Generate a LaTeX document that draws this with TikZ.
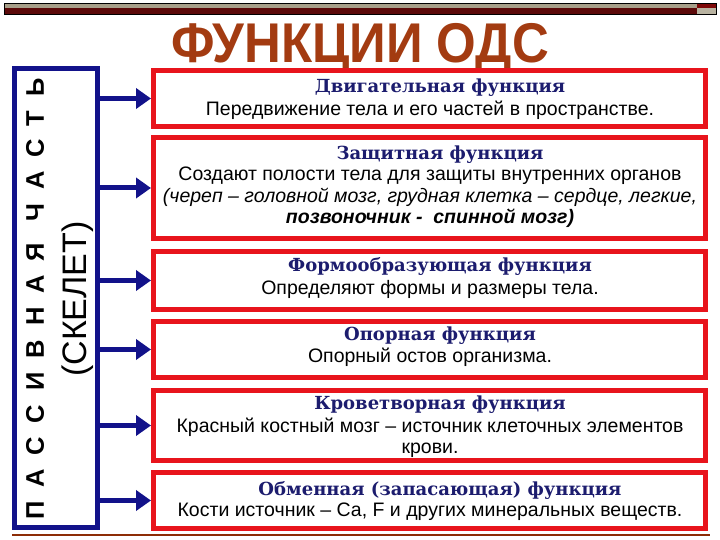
\documentclass[tikz,border=0pt]{standalone}
\usepackage{fontspec}
\setmainfont{Liberation Sans}
\newfontfamily\ttlfont{DejaVu Serif}
\newfontfamily\spacedfont[LetterSpace=55]{Liberation Sans}
\usetikzlibrary{arrows.meta,calc}
\definecolor{navy}{HTML}{12128A}
\definecolor{boxred}{HTML}{E8141C}
\definecolor{ttlbrown}{HTML}{A33B11}
\definecolor{ttlnavy}{HTML}{1C1C6E}
\definecolor{bartan}{HTML}{A8A08A}
\definecolor{barmaroon}{HTML}{5C0A0A}
\tikzset{
  redbox/.style={draw=boxred, line width=4pt, fill=white, minimum width=553pt, inner sep=0pt},
  bluebox/.style={draw=navy, line width=5pt, fill=white, minimum width=83pt, minimum height=459pt, inner sep=0pt},
  fntitle/.style={font=\ttlfont\bfseries\fontsize{18}{20}\selectfont, text=ttlnavy, inner sep=0pt},
  fnbody/.style={font=\fontsize{19.5}{21.5}\selectfont, text=black, align=center, inner sep=0pt},
  link/.style={draw=navy, line width=5pt, -{Triangle[length=15pt,width=20pt]}}
}
\begin{document}
\begin{tikzpicture}[x=1pt,y=-1pt]
\useasboundingbox (0,0) rectangle (720,540);
% top bar
\fill[bartan] (4,3) rectangle (716,8.5);
\fill[barmaroon] (4,8.5) rectangle (716,14);
\fill[barmaroon!80!red] (697,3) rectangle (716,8.5);
\fill[bartan!80!white] (697,8.5) rectangle (716,14);
\draw[black, line width=0.6pt] (4,3) rectangle (716,14);
% title
\node[text=ttlbrown, font=\bfseries\fontsize{56}{60}\selectfont, inner sep=0pt] (title) at (360,49) {\scalebox{0.91}[1]{ФУНКЦИИ ОДС}};
% bottom shadow line
\draw[barmaroon!70!orange, line width=1.2pt] (12,535) -- (710,535);
% left box
\node[bluebox] (lb) at (56,298) {};
\node[rotate=90, font=\spacedfont\bfseries\fontsize{25.5}{25.5}\selectfont, inner sep=0pt] (lbt1) at (35,299) {ПАССИВНАЯ ЧАСТЬ};
\node[rotate=90, font=\fontsize{34}{34}\selectfont, inner sep=0pt] (lbt2) at (78,299) {(СКЕЛЕТ)};
% red boxes
\node[redbox, minimum height=57pt]  (b1) at (429.5,98.5) {};
\node[redbox, minimum height=102pt] (b2) at (429.5,188) {};
\node[redbox, minimum height=59pt]  (b3) at (429.5,280.5) {};
\node[redbox, minimum height=57pt]  (b4) at (429.5,349.5) {};
\node[redbox, minimum height=71pt]  (b5) at (429.5,425.5) {};
\node[redbox, minimum height=57pt]  (b6) at (429.5,500.5) {};
\foreach \b in {b1,b2,b3,b4,b5,b6}{
  \draw[boxred, line width=0.8pt] ($(\b.north west)+(4.5,4.5)$) rectangle ($(\b.south east)+(-4.5,-4.5)$);
}
% texts
\node[fntitle] (t1) at (440,88) {Двигательная функция};
\node[fnbody] (d1) at (430,110) {Передвижение тела и его частей в пространстве.};
\node[fntitle] (t2) at (440,155) {Защитная функция};
\node[fnbody] (d2) at (430,197.5) {Создают полости тела для защиты внутренних органов\\
  \itshape (череп – головной мозг, грудная клетка – сердце, легкие,\\
  \bfseries\itshape позвоночник -\ \ спинной мозг)};
\node[fntitle] (t3) at (440,267) {Формообразующая функция};
\node[fnbody] (d3) at (430,289) {Определяют формы и размеры тела.};
\node[fntitle] (t4) at (440,336) {Опорная функция};
\node[fnbody] (d4) at (430,357) {Опорный остов организма.};
\node[fntitle] (t5) at (440,405) {Кроветворная функция};
\node[fnbody] (d5) at (430,438) {Красный костный мозг – источник клеточных элементов\\крови.};
\node[fntitle] (t6) at (440,491) {Обменная (запасающая) функция};
\node[fnbody] (d6) at (430,512) {Кости источник – Са, F и других минеральных веществ.};
% arrows
\foreach \b in {b1,b2,b3,b4,b5,b6}{
  \draw[link] (lb.east |- \b.west) -- (\b.west);
}
\end{tikzpicture}
\end{document}
